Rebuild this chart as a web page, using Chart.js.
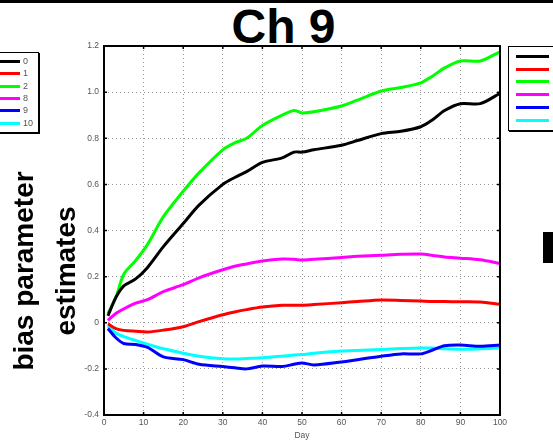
<!DOCTYPE html>
<html>
<head>
<meta charset="utf-8">
<script src="https://cdn.jsdelivr.net/npm/chart.js@4/dist/chart.umd.min.js"></script>
<style>
  html, body { margin: 0; padding: 0; background: #fff; }
  body { width: 553px; height: 444px; overflow: hidden; position: relative; font-family: "Liberation Sans", Arial, sans-serif; }
  #topbar { position: absolute; left: 0; top: 0; width: 553px; height: 3px; background: #000; }
  #title { position: absolute; left: 0; width: 567px; top: 3px; text-align: center; font-weight: bold; font-size: 48px; line-height: 48px; color: #000; }
  #chart { position: absolute; left: 0; top: 0; }
  .legend { position: absolute; border: 1px solid #000; box-shadow: 1px 1px 0 #000; background: #fff; }
  .legend .row { position: absolute; height: 3px; }
  .legend .lab { position: absolute; font-size: 9px; color: #555; line-height: 9px; }
  #blk { position: absolute; left: 543px; top: 232px; width: 12px; height: 31px; background: #000; }
</style>
</head>
<body>
<div id="topbar"></div>
<div id="title">Ch 9</div>
<canvas id="chart" width="553" height="444"></canvas>
<div class="legend" id="legLeft" style="left:-3px; top:52px; width:40px; height:79px;"></div>
<div class="legend" id="legRight" style="left:508px; top:46px; width:60px; height:83px;"></div>
<div id="blk"></div>
<script>
const days = [1, 3, 5, 8, 11, 15, 20, 24, 30, 33, 36, 40, 45, 48, 50, 53, 60, 64, 70, 75, 80, 83, 86, 90, 95, 100]

const s0 = [0.03, 0.11, 0.16, 0.19, 0.24, 0.33, 0.43, 0.51, 0.60, 0.63, 0.655, 0.695, 0.715, 0.74, 0.74, 0.75, 0.77, 0.79, 0.82, 0.83, 0.85, 0.88, 0.92, 0.95, 0.95, 0.995]
const s1 = [-0.005, -0.025, -0.033, -0.037, -0.04, -0.032, -0.017, 0.005, 0.035, 0.047, 0.057, 0.068, 0.076, 0.076, 0.076, 0.079, 0.087, 0.092, 0.099, 0.097, 0.094, 0.092, 0.092, 0.091, 0.09, 0.08]
const s2 = [0.04, 0.11, 0.21, 0.27, 0.34, 0.46, 0.57, 0.65, 0.75, 0.78, 0.80, 0.855, 0.90, 0.92, 0.91, 0.915, 0.94, 0.965, 1.005, 1.02, 1.04, 1.07, 1.105, 1.135, 1.135, 1.175]
const s8 = [0.01, 0.04, 0.06, 0.085, 0.10, 0.135, 0.165, 0.195, 0.23, 0.245, 0.255, 0.268, 0.276, 0.275, 0.272, 0.275, 0.283, 0.288, 0.293, 0.297, 0.298, 0.292, 0.285, 0.28, 0.273, 0.257]
const s9 = [-0.025, -0.065, -0.09, -0.094, -0.107, -0.148, -0.16, -0.18, -0.19, -0.195, -0.2, -0.188, -0.19, -0.18, -0.174, -0.183, -0.17, -0.16, -0.145, -0.135, -0.135, -0.118, -0.1, -0.097, -0.102, -0.097]
const s10 = [-0.015, -0.045, -0.06, -0.077, -0.093, -0.113, -0.132, -0.145, -0.156, -0.157, -0.155, -0.152, -0.145, -0.14, -0.138, -0.132, -0.123, -0.12, -0.116, -0.112, -0.109, -0.11, -0.113, -0.115, -0.113, -0.11]

const seriesNames = ['0', '1', '2', '8', '9', '10']
const seriesColors = ['#000000', '#ff0000', '#00ff00', '#ff00ff', '#0000ff', '#00ffff']
const seriesValues = [s0, s1, s2, s8, s9, s10]

const xTicks = [0, 10, 20, 30, 40, 50, 60, 70, 80, 90, 100]
const yTicks = [-0.4, -0.2, 0, 0.2, 0.4, 0.6, 0.8, 1, 1.2]

// legends (cropped, as in the slide)
function buildLegend(id, lineLeft, lineWidth, labLeft, firstRow, step) {
    const box = document.getElementById(id)
    seriesNames.forEach((name, i) => {
        const row = document.createElement('div')
        row.className = 'row'
        row.style.left = lineLeft + 'px'
        row.style.width = lineWidth + 'px'
        row.style.top = (firstRow + step * i) + 'px'
        row.style.background = seriesColors[i]
        box.appendChild(row)
        const lab = document.createElement('div')
        lab.className = 'lab'
        lab.style.left = labLeft + 'px'
        lab.style.top = (firstRow + step * i - 3) + 'px'
        lab.textContent = name
        box.appendChild(lab)
    })
}
buildLegend('legLeft', 0, 22, 25, 7, 12.3)
buildLegend('legRight', 7, 33, 44, 8, 12.7)

const frame = {
    id: 'frame',
    afterDraw(chart) {
        const { ctx, chartArea: a, scales } = chart
        ctx.save()
        ctx.strokeStyle = '#000'
        ctx.lineWidth = 1.5
        ctx.beginPath()
        xTicks.forEach(t => {
            const px = scales.x.getPixelForValue(t)
            ctx.moveTo(px, a.bottom); ctx.lineTo(px, a.bottom - 3)
            ctx.moveTo(px, a.top); ctx.lineTo(px, a.top + 3)
        })
        yTicks.forEach(t => {
            const py = scales.y.getPixelForValue(t)
            ctx.moveTo(a.left, py); ctx.lineTo(a.left + 3, py)
            ctx.moveTo(a.right, py); ctx.lineTo(a.right - 3, py)
        })
        ctx.stroke()
        ctx.lineWidth = 2
        ctx.strokeRect(a.left, a.top, a.right - a.left, a.bottom - a.top)

        // y label, two rotated lines
        ctx.fillStyle = '#000'
        ctx.font = 'bold 28px "Liberation Sans", Arial, sans-serif'
        ctx.textAlign = 'center'
        ctx.textBaseline = 'alphabetic'
        ctx.translate(0, 271)
        ctx.rotate(-Math.PI / 2)
        ctx.fillText('bias parameter', 0, 33)
        ctx.fillText('estimates', 0, 75)
        ctx.restore()
    }
}

new Chart(document.getElementById('chart'), {
    type: 'line',
    data: {
        datasets: seriesValues.map((vals, i) => ({
            label: seriesNames[i],
            data: vals.map((v, j) => ({ x: days[j], y: v })),
            borderColor: seriesColors[i],
            borderWidth: 3,
            pointRadius: 0,
            tension: 0.3,
            fill: false
        }))
    },
    options: {
        responsive: false,
        animation: false,
        layout: { padding: { left: 74, right: 53, top: 46, bottom: 0 } },
        plugins: { legend: { display: false }, tooltip: { enabled: false } },
        scales: {
            x: {
                type: 'linear',
                min: 0,
                max: 100,
                afterBuildTicks: s => { s.ticks = xTicks.map(v => ({ value: v })) },
                afterFit: s => { s.height = 29 },
                grid: { color: '#999', lineWidth: 1, drawTicks: false },
                border: { display: false, dash: [1, 3] },
                ticks: { color: '#555', font: { size: 8.5 }, padding: 3, maxRotation: 0 },
                title: { display: true, text: 'Day', color: '#555', font: { size: 8.5 }, padding: { top: 0, bottom: 3 } }
            },
            y: {
                min: -0.4,
                max: 1.2,
                afterBuildTicks: s => { s.ticks = yTicks.map(v => ({ value: v })) },
                afterFit: s => { s.width = 30 },
                grid: { color: '#999', lineWidth: 1, drawTicks: false },
                border: { display: false, dash: [1, 3] },
                ticks: { color: '#555', font: { size: 8.5 }, padding: 5 }
            }
        }
    },
    plugins: [frame]
})
</script>
</body>
</html>
